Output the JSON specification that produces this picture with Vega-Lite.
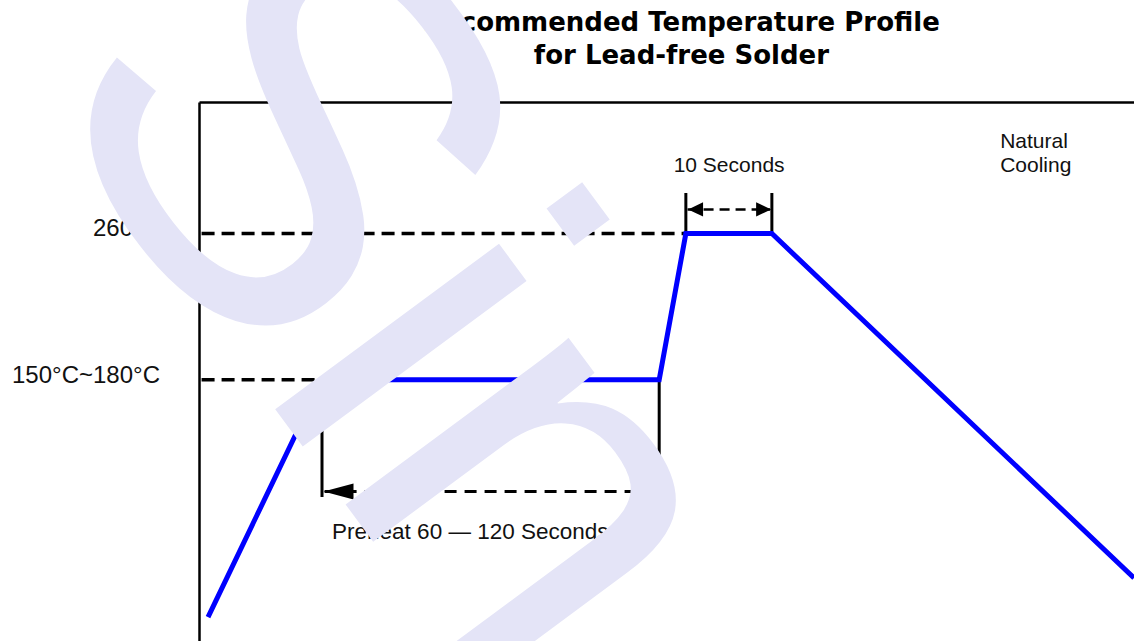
{
  "$schema": "https://vega.github.io/schema/vega-lite/v6.json",
  "width": 935,
  "height": 539,
  "padding": {"left": 199, "top": 102, "right": 0, "bottom": 0},
  "autosize": {"type": "none"},
  "background": "white",
  "config": {
    "view": {"stroke": null},
    "axis": {"labels": false, "ticks": false, "grid": false, "domainColor": "#000000", "domainWidth": 2.5, "titleColor": "transparent"}
  },
  "datasets": {
    "profile": [
      {"t": 1.05, "temp": 50.1},
      {"t": 14.3, "temp": 180},
      {"t": 53.5, "temp": 180},
      {"t": 56.6, "temp": 260},
      {"t": 66.6, "temp": 260},
      {"t": 108.7, "temp": 71.5}
    ],
    "segments": [
      {"kind": "dash", "t1": 0.3, "t2": 56.6, "temp1": 260, "temp2": 260},
      {"kind": "dash", "t1": 0.3, "t2": 14.3, "temp1": 180, "temp2": 180},
      {"kind": "arrow10", "t1": 56.8, "t2": 66.4, "temp1": 273.2, "temp2": 273.2},
      {"kind": "arrowPre", "t1": 14.6, "t2": 53.5, "temp1": 118.8, "temp2": 118.8},
      {"kind": "solid", "t1": 56.6, "t2": 56.6, "temp1": 260, "temp2": 282.2},
      {"kind": "solid", "t1": 66.6, "t2": 66.6, "temp1": 260, "temp2": 282.2},
      {"kind": "solid", "t1": 14.3, "t2": 14.3, "temp1": 152.5, "temp2": 115.8},
      {"kind": "solid", "t1": 53.5, "t2": 53.5, "temp1": 180, "temp2": 115.8}
    ],
    "heads": [
      {"dir": "left10", "t": 57.73, "temp": 273.2},
      {"dir": "right10", "t": 65.64, "temp": 273.2},
      {"dir": "leftPre", "t": 16.22, "temp": 118.8}
    ],
    "labels": [
      {"role": "title", "t": 56.09, "temp": 370.9, "text": "Recommended Temperature Profile"},
      {"role": "title", "t": 56.09, "temp": 352.8, "text": "for Lead-free Solder"},
      {"role": "axisnote", "t": -12.33, "temp": 258.7, "text": "260°C"},
      {"role": "axisnote", "t": -21.74, "temp": 178.2, "text": "150°C~180°C"},
      {"role": "center", "t": 61.63, "temp": 293.7, "text": "10 Seconds"},
      {"role": "note", "t": 93.14, "temp": 306.8, "text": "Natural"},
      {"role": "note", "t": 93.14, "temp": 293.7, "text": "Cooling"},
      {"role": "preheat", "t": 15.47, "temp": 92.8, "text": "Preheat 60 — 120 Seconds"}
    ],
    "mark": [
      {"part": "head", "text": "S", "t": -19.83, "temp": 336.2},
      {"part": "tail", "text": "in", "t": 6.42, "temp": 179.3}
    ]
  },
  "layer": [
    {
      "data": {"name": "segments"},
      "transform": [{"filter": "datum.kind === 'dash'"}],
      "mark": {"type": "rule", "color": "#000000", "strokeWidth": 3.5, "strokeDash": [13, 7]},
      "encoding": {
        "x": {"field": "t1", "type": "quantitative", "title": null, "scale": {"domain": [0, 108.7], "nice": false, "zero": false}, "axis": {"orient": "top"}},
        "x2": {"field": "t2"},
        "y": {"field": "temp1", "type": "quantitative", "title": null, "scale": {"domain": [37, 332], "nice": false, "zero": false}, "axis": {"orient": "left"}},
        "y2": {"field": "temp2"}
      }
    },
    {
      "data": {"name": "segments"},
      "transform": [{"filter": "datum.kind === 'arrow10'"}],
      "mark": {"type": "rule", "color": "#000000", "strokeWidth": 2.5, "strokeDash": [10, 6]},
      "encoding": {
        "x": {"field": "t1", "type": "quantitative", "title": null},
        "x2": {"field": "t2"},
        "y": {"field": "temp1", "type": "quantitative", "title": null},
        "y2": {"field": "temp2"}
      }
    },
    {
      "data": {"name": "segments"},
      "transform": [{"filter": "datum.kind === 'arrowPre'"}],
      "mark": {"type": "rule", "color": "#000000", "strokeWidth": 3, "strokeDash": [12, 8]},
      "encoding": {
        "x": {"field": "t1", "type": "quantitative", "title": null},
        "x2": {"field": "t2"},
        "y": {"field": "temp1", "type": "quantitative", "title": null},
        "y2": {"field": "temp2"}
      }
    },
    {
      "data": {"name": "segments"},
      "transform": [{"filter": "datum.kind === 'solid'"}],
      "mark": {"type": "rule", "color": "#000000", "strokeWidth": 3},
      "encoding": {
        "x": {"field": "t1", "type": "quantitative", "title": null},
        "x2": {"field": "t2"},
        "y": {"field": "temp1", "type": "quantitative", "title": null},
        "y2": {"field": "temp2"}
      }
    },
    {
      "data": {"name": "profile"},
      "mark": {"type": "line", "color": "#0000ff", "strokeWidth": 5, "strokeJoin": "miter", "strokeCap": "butt"},
      "encoding": {
        "x": {"field": "t", "type": "quantitative", "title": null},
        "y": {"field": "temp", "type": "quantitative", "title": null}
      }
    },
    {
      "data": {"name": "heads"},
      "transform": [{"filter": "datum.dir === 'left10'"}],
      "mark": {"type": "point", "shape": "M-1,0L1,-0.95L1,0.95Z", "filled": true, "color": "#000000", "opacity": 1, "size": 225, "strokeWidth": 0},
      "encoding": {
        "x": {"field": "t", "type": "quantitative", "title": null},
        "y": {"field": "temp", "type": "quantitative", "title": null}
      }
    },
    {
      "data": {"name": "heads"},
      "transform": [{"filter": "datum.dir === 'right10'"}],
      "mark": {"type": "point", "shape": "M1,0L-1,-0.95L-1,0.95Z", "filled": true, "color": "#000000", "opacity": 1, "size": 225, "strokeWidth": 0},
      "encoding": {
        "x": {"field": "t", "type": "quantitative", "title": null},
        "y": {"field": "temp", "type": "quantitative", "title": null}
      }
    },
    {
      "data": {"name": "heads"},
      "transform": [{"filter": "datum.dir === 'leftPre'"}],
      "mark": {"type": "point", "shape": "M-1,0L1,-0.53L1,0.53Z", "filled": true, "color": "#000000", "opacity": 1, "size": 900, "strokeWidth": 0},
      "encoding": {
        "x": {"field": "t", "type": "quantitative", "title": null},
        "y": {"field": "temp", "type": "quantitative", "title": null}
      }
    },
    {
      "data": {"name": "labels"},
      "transform": [{"filter": "datum.role === 'title'"}],
      "mark": {"type": "text", "align": "center", "baseline": "alphabetic", "font": "DejaVu Sans", "fontWeight": "bold", "fontSize": 26, "color": "#000000"},
      "encoding": {
        "x": {"field": "t", "type": "quantitative", "title": null},
        "y": {"field": "temp", "type": "quantitative", "title": null},
        "text": {"field": "text"}
      }
    },
    {
      "data": {"name": "labels"},
      "transform": [{"filter": "datum.role === 'axisnote'"}],
      "mark": {"type": "text", "align": "left", "baseline": "alphabetic", "font": "Liberation Sans", "fontSize": 24, "color": "#111111"},
      "encoding": {
        "x": {"field": "t", "type": "quantitative", "title": null},
        "y": {"field": "temp", "type": "quantitative", "title": null},
        "text": {"field": "text"}
      }
    },
    {
      "data": {"name": "labels"},
      "transform": [{"filter": "datum.role === 'preheat'"}],
      "mark": {"type": "text", "align": "left", "baseline": "alphabetic", "font": "Liberation Sans", "fontSize": 22.5, "color": "#111111"},
      "encoding": {
        "x": {"field": "t", "type": "quantitative", "title": null},
        "y": {"field": "temp", "type": "quantitative", "title": null},
        "text": {"field": "text"}
      }
    },
    {
      "data": {"name": "labels"},
      "transform": [{"filter": "datum.role === 'center'"}],
      "mark": {"type": "text", "align": "center", "baseline": "alphabetic", "font": "Liberation Sans", "fontSize": 21, "color": "#111111"},
      "encoding": {
        "x": {"field": "t", "type": "quantitative", "title": null},
        "y": {"field": "temp", "type": "quantitative", "title": null},
        "text": {"field": "text"}
      }
    },
    {
      "data": {"name": "labels"},
      "transform": [{"filter": "datum.role === 'note'"}],
      "mark": {"type": "text", "align": "left", "baseline": "alphabetic", "font": "Liberation Sans", "fontSize": 21, "color": "#111111"},
      "encoding": {
        "x": {"field": "t", "type": "quantitative", "title": null},
        "y": {"field": "temp", "type": "quantitative", "title": null},
        "text": {"field": "text"}
      }
    },
    {
      "data": {"name": "mark"},
      "transform": [{"filter": "datum.part === 'head'"}],
      "mark": {"type": "text", "align": "left", "baseline": "alphabetic", "font": "Liberation Sans", "fontSize": 560, "angle": 52, "color": "#e4e4f7"},
      "encoding": {
        "x": {"field": "t", "type": "quantitative", "title": null},
        "y": {"field": "temp", "type": "quantitative", "title": null},
        "text": {"field": "text"}
      }
    },
    {
      "data": {"name": "mark"},
      "transform": [{"filter": "datum.part === 'tail'"}],
      "mark": {"type": "text", "align": "left", "baseline": "alphabetic", "font": "Liberation Sans", "fontSize": 527, "angle": 53.5, "color": "#e4e4f7"},
      "encoding": {
        "x": {"field": "t", "type": "quantitative", "title": null},
        "y": {"field": "temp", "type": "quantitative", "title": null},
        "text": {"field": "text"}
      }
    }
  ]
}
